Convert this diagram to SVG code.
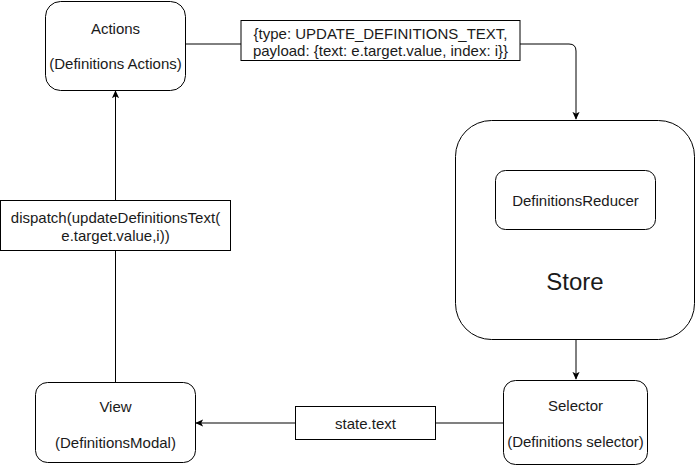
<svg xmlns="http://www.w3.org/2000/svg" width="696" height="466" viewBox="0 0 696 466">
<defs>
<style>
.node{fill:#fff;stroke:#000;stroke-width:1}
.t{font-family:"Liberation Sans",Arial,sans-serif;font-size:15px;fill:#1a1a1a;text-anchor:middle;dominant-baseline:central}
.big{font-size:24px}
.edge{fill:none;stroke:#000;stroke-width:1}
.gray{stroke:#808080;stroke-width:2}
</style>
<marker id="arr" viewBox="0 0 10 10" refX="9" refY="5" markerWidth="8" markerHeight="8" markerUnits="userSpaceOnUse" orient="auto">
<path d="M0,0.5 L10,5 L0,9.5 L2.5,5 Z" fill="#000"/>
</marker>
</defs>
<rect width="696" height="466" fill="#fff"/>
<g id="connectors">
<path class="edge" d="M185.5,44 H241"/>
<path class="edge" d="M520,44 H569 Q576,44 576,51 V119" marker-end="url(#arr)"/>
<path class="edge" d="M576,340 V379" marker-end="url(#arr)"/>
<path class="edge gray" d="M503,423 H435"/>
<path class="edge gray" d="M295,423 H196" marker-end="url(#arr)"/>
<path class="edge" d="M115.5,382 V250"/>
<path class="edge" d="M115.5,200 V91" marker-end="url(#arr)"/>
</g>
<g id="actions">
<rect class="node" x="45.5" y="1.5" width="140" height="89" rx="15"/>
<text class="t" x="115.5" y="28">Actions</text>
<text class="t" x="115.5" y="63">(Definitions Actions)</text>
</g>
<g id="action-label">
<rect class="node" x="241" y="20.5" width="279" height="40"/>
<text class="t" x="380.5" y="33">{type: UPDATE_DEFINITIONS_TEXT,</text>
<text class="t" x="380.5" y="50">payload: {text: e.target.value, index: i}}</text>
</g>
<g id="store">
<rect class="node" x="455.5" y="120.5" width="239" height="219" rx="36"/>
<text class="t big" x="575" y="281">Store</text>
</g>
<g id="reducer">
<rect class="node" x="495.5" y="170.5" width="160" height="59" rx="10"/>
<text class="t" x="575.5" y="200">DefinitionsReducer</text>
</g>
<g id="selector">
<rect class="node" x="503.5" y="380.5" width="144" height="84" rx="12"/>
<text class="t" x="575.5" y="405">Selector</text>
<text class="t" x="575.5" y="441">(Definitions selector)</text>
</g>
<g id="state-text">
<rect class="node" x="295.5" y="406.5" width="140" height="33"/>
<text class="t" x="365.5" y="423">state.text</text>
</g>
<g id="view">
<rect class="node" x="35.5" y="382.5" width="160" height="80" rx="12"/>
<text class="t" x="115.5" y="406">View</text>
<text class="t" x="115.5" y="442">(DefinitionsModal)</text>
</g>
<g id="dispatch">
<rect class="node" x="0.5" y="200.5" width="230" height="50"/>
<text class="t" x="115.5" y="217">dispatch(updateDefinitionsText(</text>
<text class="t" x="115.5" y="235">e.target.value,i))</text>
</g>
</svg>
